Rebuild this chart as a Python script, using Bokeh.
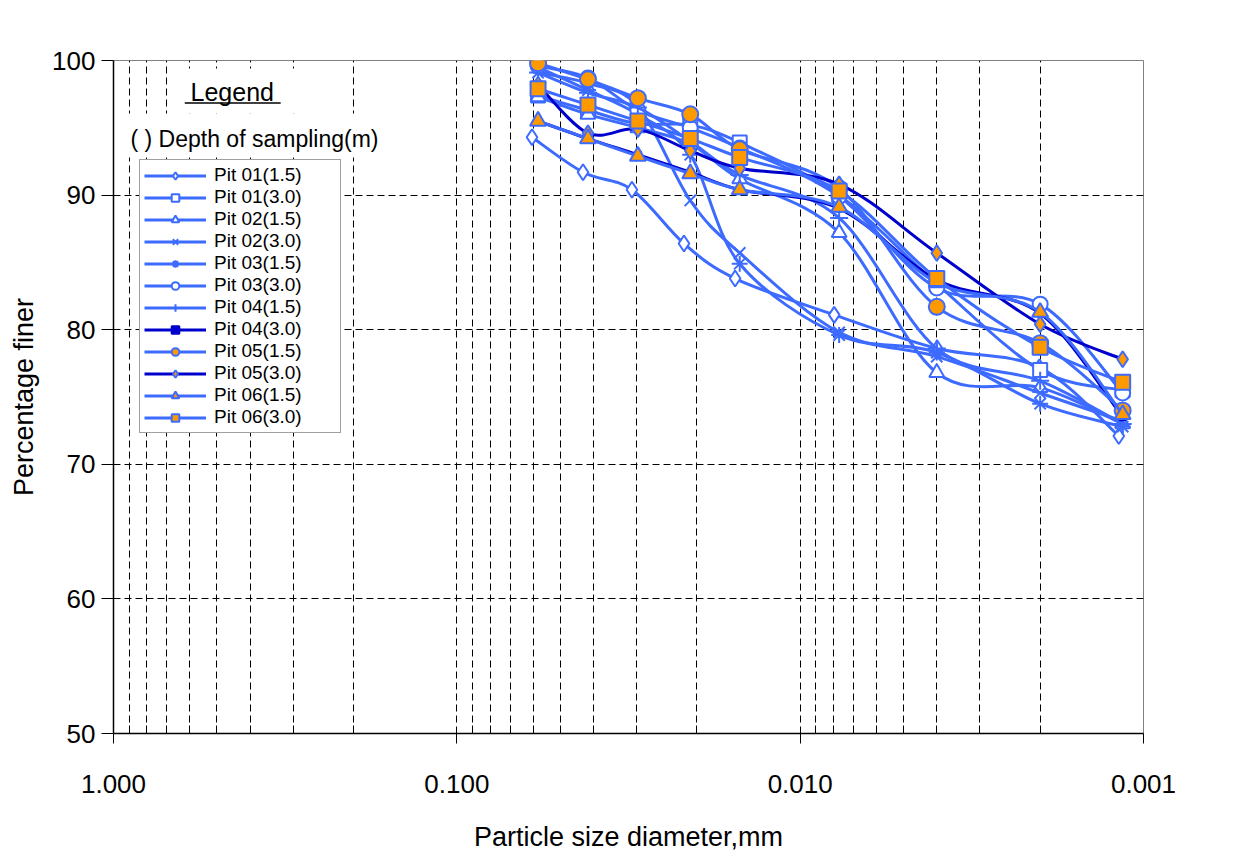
import math
from bokeh.plotting import figure
from bokeh.models import (Range1d, FixedTicker, PrintfTickFormatter, Legend,
                          LegendItem, Label, BoxAnnotation)
from bokeh.embed import file_html
from bokeh.resources import INLINE

# ---------------- data ----------------
x_ticks = [1.0, 0.1, 0.01, 0.001]
y_ticks = [50, 60, 70, 80, 90, 100]

# particle diameters (mm) of the hydrometer readings
d_pit01a = [0.0604, 0.0429, 0.0309, 0.0218, 0.01547, 0.00796, 0.00399, 0.00201, 0.00118]
d_common = [0.0580, 0.0415, 0.0297, 0.0209, 0.0150, 0.0077, 0.0040, 0.0020, 0.00115]

pit01_15 = [94.3, 91.7, 90.4, 86.4, 83.8, 81.1, 78.6, 77.2, 72.1]
pit01_30 = [97.4, 96.3, 95.3, 95.2, 93.9, 90.0, 83.4, 77.0, 75.5]
pit02_15 = [97.3, 96.0, 95.0, 93.8, 91.2, 87.2, 76.8, 75.7, 73.0]
pit02_30 = [99.1, 98.3, 96.6, 89.6, 85.7, 79.8, 78.0, 75.3, 73.2]
pit03_15 = [99.5, 97.8, 96.0, 93.0, 84.9, 79.6, 78.3, 74.5, 72.8]
pit03_30 = [99.6, 98.7, 96.3, 95.0, 93.5, 89.9, 83.1, 81.9, 75.3]
pit04_15 = [99.1, 97.6, 96.5, 94.0, 91.5, 88.3, 78.6, 76.2, 73.0]
pit04_30 = [95.5, 94.2, 93.0, 91.7, 90.4, 89.0, 83.7, 81.2, 73.5]
pit05_15 = [99.8, 98.6, 97.2, 96.0, 93.4, 90.5, 81.7, 79.0, 74.0]
pit05_30 = [98.2, 94.6, 94.9, 93.3, 92.0, 90.8, 85.7, 80.4, 77.8]
pit06_15 = [95.5, 94.2, 92.9, 91.6, 90.4, 89.1, 83.5, 81.3, 73.7]
pit06_30 = [97.9, 96.7, 95.5, 94.2, 92.8, 90.3, 83.8, 78.7, 76.1]

LB = "#3D6BFF"   # light blue line
DB = "#0000CC"   # dark blue line
OR = "#FF9900"   # orange fill
WH = "white"

series = [
    ("Pit 01(1.5)", d_pit01a, pit01_15, "diamond", 16, LB, WH),
    ("Pit 01(3.0)", d_common, pit01_30, "square", 14, LB, WH),
    ("Pit 02(1.5)", d_common, pit02_15, "triangle", 15, LB, WH),
    ("Pit 02(3.0)", d_common, pit02_30, "x", 16, LB, WH),
    ("Pit 03(1.5)", d_common, pit03_15, "asterisk", 16, LB, WH),
    ("Pit 03(3.0)", d_common, pit03_30, "circle", 15, LB, WH),
    ("Pit 04(1.5)", d_common, pit04_15, "cross", 18, LB, WH),
    ("Pit 04(3.0)", d_common, pit04_30, "square", 6, DB, DB),
    ("Pit 05(1.5)", d_common, pit05_15, "circle", 16, LB, OR),
    ("Pit 05(3.0)", d_common, pit05_30, "diamond", 16, DB, OR),
    ("Pit 06(1.5)", d_common, pit06_15, "triangle", 16, LB, OR),
    ("Pit 06(3.0)", d_common, pit06_30, "square", 15, LB, OR),
]


def smooth(xs, ys):
    """Catmull-Rom style bezier control points (log-x space) for a smoothed line."""
    lx = [math.log10(v) for v in xs]
    n = len(xs)
    out = dict(x0=[], y0=[], x1=[], y1=[], cx0=[], cy0=[], cx1=[], cy1=[])
    for i in range(n - 1):
        i0 = max(i - 1, 0)
        i3 = min(i + 2, n - 1)
        c0x = lx[i] + (lx[i + 1] - lx[i0]) / 6.0
        c0y = ys[i] + (ys[i + 1] - ys[i0]) / 6.0
        c1x = lx[i + 1] - (lx[i3] - lx[i]) / 6.0
        c1y = ys[i + 1] - (ys[i3] - ys[i]) / 6.0
        out["x0"].append(xs[i]); out["y0"].append(ys[i])
        out["x1"].append(xs[i + 1]); out["y1"].append(ys[i + 1])
        out["cx0"].append(10 ** c0x); out["cy0"].append(c0y)
        out["cx1"].append(10 ** c1x); out["cy1"].append(c1y)
    return out


FONT = "Liberation Sans"

p = figure(
    x_axis_type="log",
    x_range=Range1d(1.0, 0.001),
    y_range=Range1d(50, 100),
    frame_width=1030, frame_height=673,
    min_border_left=113, min_border_right=102,
    min_border_top=60, min_border_bottom=134,
    output_backend="svg", toolbar_location=None,
    background_fill_color="white", border_fill_color="white",
)
p.outline_line_color = "#808080"
p.outline_line_width = 1

# axes
xa = p.xaxis[0]
xa.ticker = FixedTicker(ticks=x_ticks,
                        minor_ticks=[m * 10.0 ** e for e in (-3, -2, -1) for m in range(2, 10)])
xa.formatter = PrintfTickFormatter(format="%.3f")
xa.major_tick_out = 10
xa.major_tick_in = 0
xa.minor_tick_in = 8
xa.minor_tick_out = 0
xa.axis_line_color = "black"
xa.axis_line_width = 1.5
xa.major_tick_line_color = "black"
xa.minor_tick_line_color = "black"
xa.major_label_text_font = FONT
xa.major_label_text_font_size = "26px"
xa.major_label_text_color = "black"
xa.major_label_standoff = 31
xa.axis_label = "Particle size diameter,mm"
xa.axis_label_text_font = FONT
xa.axis_label_text_font_size = "27px"
xa.axis_label_text_color = "black"
xa.axis_label_text_font_style = "normal"
xa.axis_label_standoff = 26

ya = p.yaxis[0]
ya.ticker = FixedTicker(ticks=y_ticks)
ya.major_tick_out = 12
ya.major_tick_in = 0
ya.minor_tick_out = 0
ya.minor_tick_in = 0
ya.axis_line_color = "black"
ya.axis_line_width = 1.5
ya.major_tick_line_color = "black"
ya.major_label_text_font = FONT
ya.major_label_text_font_size = "26px"
ya.major_label_text_color = "black"
ya.major_label_standoff = 6
ya.axis_label = "Percentage finer"
ya.axis_label_text_font = FONT
ya.axis_label_text_font_size = "27px"
ya.axis_label_text_color = "black"
ya.axis_label_text_font_style = "normal"
ya.axis_label_standoff = 10

# grids
p.xgrid.grid_line_color = "black"
p.xgrid.grid_line_dash = "7 4"
p.xgrid.grid_line_width = 1
p.xgrid.minor_grid_line_color = "black"
p.xgrid.minor_grid_line_dash = "7 4"
p.xgrid.minor_grid_line_width = 1
p.ygrid.grid_line_color = "black"
p.ygrid.grid_line_dash = "7 4"
p.ygrid.grid_line_width = 1

# masks behind the legend title texts
p.add_layout(BoxAnnotation(left=0.6595, right=0.2180, top=99.41, bottom=96.06,
                           fill_color="white", fill_alpha=1, line_alpha=0))
p.add_layout(BoxAnnotation(left=0.9541, right=0.1506, top=96.06, bottom=92.79,
                           fill_color="white", fill_alpha=1, line_alpha=0))
p.add_layout(Label(x=0.5964, y=97.63, text="Legend", text_font=FONT,
                   text_font_size="25px", text_color="black",
                   text_baseline="alphabetic"))
p.add_layout(BoxAnnotation(left=0.62, right=0.3259, top=96.90, bottom=96.78,
                           fill_color="black", fill_alpha=1, line_alpha=0))
p.add_layout(Label(x=0.8922, y=94.15, text="( ) Depth of sampling(m)", text_font=FONT,
                   text_font_size="23px", text_color="black",
                   text_baseline="alphabetic"))

items = []
for label, xs, ys, marker, size, lcol, fcol in series:
    bz = p.bezier(**smooth(xs, ys), line_color=lcol, line_width=3)
    mline = DB if marker == "square" and lcol == DB else LB
    sc = p.scatter(x=xs, y=ys, marker=marker, size=size, fill_color=fcol,
                   line_color=mline, line_width=2)
    items.append(LegendItem(label=label, renderers=[bz, sc]))

legend = Legend(items=items, location=(26, 300))
legend.label_text_font = FONT
legend.label_text_font_size = "19px"
legend.label_text_color = "black"
legend.glyph_width = 62
legend.glyph_height = 19
legend.label_height = 19
legend.label_width = 122
legend.spacing = 0
legend.padding = 4
legend.margin = 0
legend.label_standoff = 8
legend.border_line_color = "#404040"
legend.border_line_width = 1
legend.background_fill_color = "white"
legend.background_fill_alpha = 1
p.add_layout(legend)

open("out.html", "w").write(file_html(p, INLINE))
